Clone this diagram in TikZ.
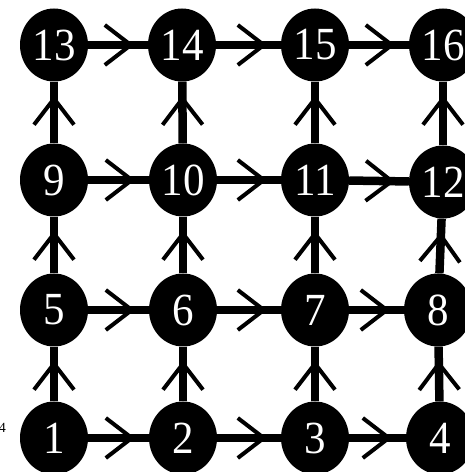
\documentclass[tikz,border=0pt]{standalone}
\usepackage{fontspec}
\setmainfont{Liberation Serif}
\newfontfamily\numfont{Liberation Serif}
\usetikzlibrary{shapes.geometric,decorations.markings}
\tikzset{
  vtx/.style={ellipse, fill=black, draw=none, minimum width=68pt, minimum height=73pt, inner sep=0pt,
    text=white, font=\numfont\fontsize{43}{45}\selectfont},
  conn/.style={line width=8.5pt, draw=black,
    postaction={decorate, decoration={markings,
      mark=at position -17pt with {\draw[line width=4pt, line join=miter] (-26pt,20pt) -- (0,0) -- (-26pt,-20pt);}}}},
}
\newcommand{\vlab}[1]{\scalebox{1}[1.07]{#1}}
\begin{document}
\begin{tikzpicture}[x=1pt,y=1pt]
\useasboundingbox (0,0) rectangle (465,472);
\node[vtx] (n1)  at (54,34)   {\vlab{1}};
\node[vtx] (n2)  at (183,34)  {\vlab{2}};
\node[vtx] (n3)  at (315,34)  {\vlab{3}};
\node[vtx] (n4)  at (440,34)  {\vlab{4}};
\node[vtx] (n5)  at (54,162)  {\vlab{5}};
\node[vtx] (n6)  at (183,162) {\vlab{6}};
\node[vtx] (n7)  at (315,162) {\vlab{7}};
\node[vtx] (n8)  at (438,162) {\vlab{8}};
\node[vtx] (n9)  at (54,292)  {\vlab{9}};
\node[vtx] (n10) at (183,292) {\vlab{10}};
\node[vtx] (n11) at (315,292) {\vlab{11}};
\node[vtx] (n12) at (443,290) {\vlab{12}};
\node[vtx] (n13) at (54,427)  {\vlab{13}};
\node[vtx] (n14) at (182,427) {\vlab{14}};
\node[vtx] (n15) at (315,427) {\vlab{15}};
\node[vtx] (n16) at (443,427) {\vlab{16}};
\draw[conn] (n1) -- (n2);
\draw[conn] (n2) -- (n3);
\draw[conn] (n3) -- (n4);
\draw[conn] (n5) -- (n6);
\draw[conn] (n6) -- (n7);
\draw[conn] (n7) -- (n8);
\draw[conn] (n9) -- (n10);
\draw[conn] (n10) -- (n11);
\draw[conn] (n11) -- (n12);
\draw[conn] (n13) -- (n14);
\draw[conn] (n14) -- (n15);
\draw[conn] (n15) -- (n16);
\draw[conn] (n1) -- (n5);
\draw[conn] (n5) -- (n9);
\draw[conn] (n9) -- (n13);
\draw[conn] (n2) -- (n6);
\draw[conn] (n6) -- (n10);
\draw[conn] (n10) -- (n14);
\draw[conn] (n3) -- (n7);
\draw[conn] (n7) -- (n11);
\draw[conn] (n11) -- (n15);
\draw[conn] (n4) -- (n8);
\draw[conn] (n8) -- (n12);
\draw[conn] (n12) -- (n16);
\node[anchor=east, inner sep=0pt, font=\numfont\fontsize{14}{16}\selectfont] (lbl) at (6,44) {4};
\end{tikzpicture}
\end{document}
